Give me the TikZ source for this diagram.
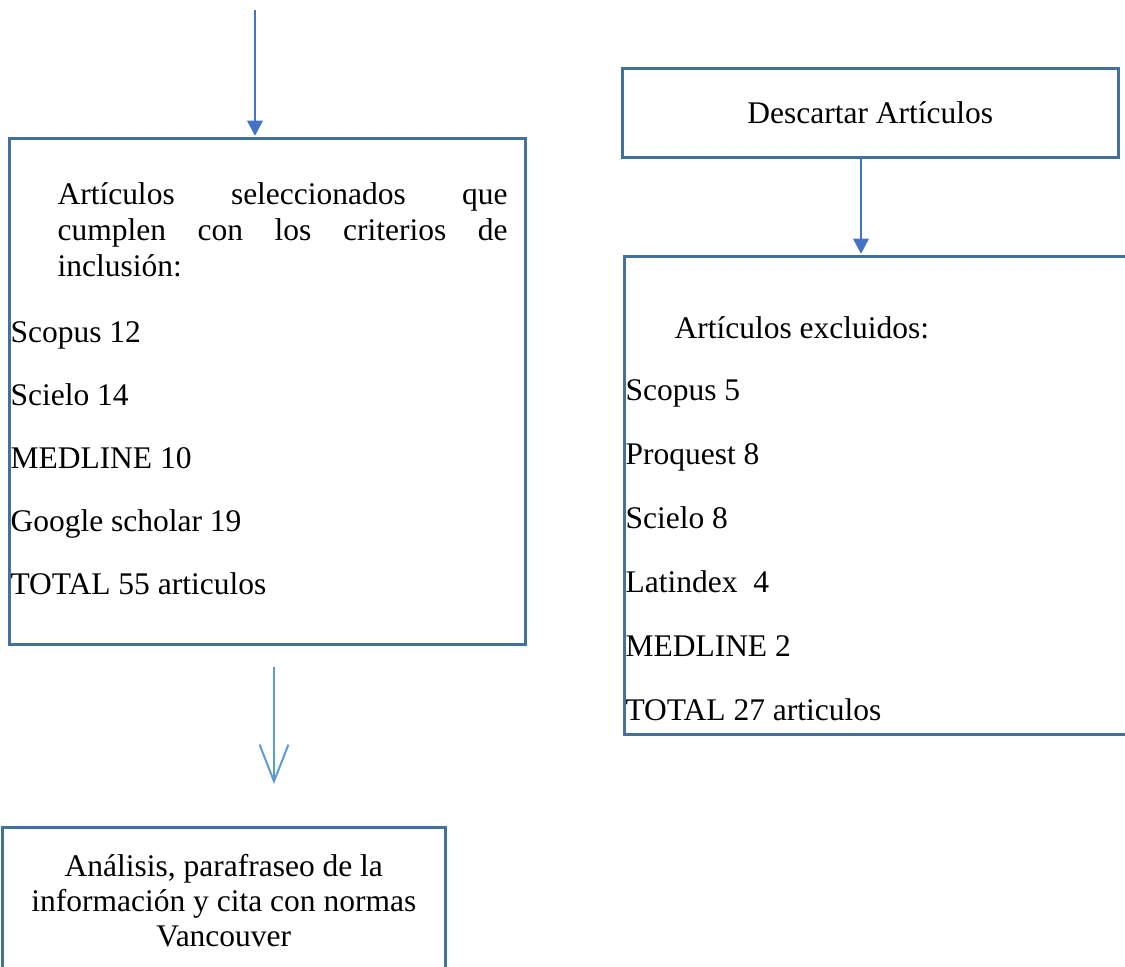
\documentclass[tikz,border=0pt]{standalone}
\usepackage{fontspec}
\setmainfont{Liberation Serif}
\usetikzlibrary{arrows.meta, positioning, calc}
\definecolor{azulborde}{HTML}{41719C}
\definecolor{azulflecha}{HTML}{4472C4}
\definecolor{azulclaro}{HTML}{5B9BD5}

\begin{document}
\begin{tikzpicture}[x=0.381pt, y=-0.381pt,
    caja/.style={draw=azulborde, line width=1pt, inner sep=0pt, anchor=north west,
                 font=\fontsize{12}{13.4}\selectfont},
    texto/.style={anchor=base west, inner sep=0pt, font=\fontsize{12}{13.4}\selectfont},
    flecha/.style={azulflecha, line width=0.4pt, -{Triangle[length=5.7pt, width=6pt]}},
    abierta/.style={azulclaro, line width=0.75pt, -{Straight Barb[length=14pt, width=11pt]}}]
  \useasboundingbox (0,0) rectangle (1125,966);

  % Cajas
  \node[caja, minimum width=516*0.381pt, minimum height=506*0.381pt] (incl) at (8,137) {};
  \node[caja, minimum width=496*0.381pt, minimum height=89*0.381pt] (desc) at (621,67)
    {Descartar Artículos};
  \node[caja, minimum width=540*0.381pt, minimum height=478*0.381pt] (excl) at (623,255) {};
  \node[caja, minimum width=443*0.381pt, minimum height=146*0.381pt, align=center] (anal) at (1,826)
    {Análisis, parafraseo de la\\información y cita con normas\\Vancouver};

  % Texto: seleccionados
  \node[texto] (sel-1) at (57,204) {\makebox[171.5pt][s]{Artículos seleccionados que}};
  \node[texto] (sel-2) at (57,240) {\makebox[171.5pt][s]{cumplen con los criterios de}};
  \node[texto] (sel-3) at (57,276) {inclusión:};
  \foreach \txt [count=\i] in {Scopus 12, Scielo 14, MEDLINE 10, Google scholar 19,
                               TOTAL 55 articulos}
    \node[texto] (sel-l\i) at (10,{279+63*\i}) {\txt};

  % Texto: excluidos
  \node[texto] (exc-0) at (674,338) {Artículos excluidos:};
  \foreach \txt [count=\i] in {Scopus 5, Proquest 8, Scielo 8, Latindex\ \ 4, MEDLINE 2,
                               TOTAL 27 articulos}
    \node[texto] (exc-\i) at (625,{336+64*\i}) {\txt};

  % Flechas
  \coordinate (inicio) at (255,10);
  \coordinate (ejeder) at (861,0);
  \coordinate (ejeizq) at (274,0);
  \draw[flecha, shorten >=0.5pt] (inicio) -- (inicio |- incl.north);
  \draw[flecha, shorten >=0.5pt] (desc.south -| ejeder) -- (excl.north -| ejeder);
  \draw[abierta, shorten <=8pt, shorten >=16pt] (incl.south -| ejeizq) -- (anal.north -| ejeizq);
\end{tikzpicture}
\end{document}
